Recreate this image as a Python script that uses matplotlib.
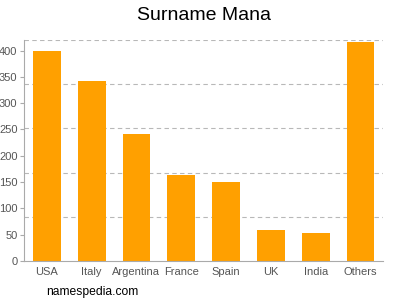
import numpy as np
import matplotlib
matplotlib.use('Agg')
import matplotlib.pyplot as plt

countries = ['USA', 'Italy', 'Argentina', 'France', 'Spain', 'UK', 'India', 'Others']
counts = [400, 342, 242, 164, 151, 58, 54, 417]
yticks = [0, 50, 100, 150, 200, 250, 300, 350, 400]
gridlines = [84, 168, 252, 336, 420]

plt.rcParams['font.family'] = ['Liberation Sans', 'DejaVu Sans']

fig = plt.figure(figsize=(4, 3), dpi=100)
ax = fig.add_axes([0.061, 0.13, 0.8965, 0.7367])

x = np.arange(len(countries))
ax.bar(x, counts, width=0.62, color='#FFA000', zorder=2)

for g in gridlines:
    ax.axhline(g, color='#b8b8b8', linestyle=(0, (4, 3)), linewidth=0.8, zorder=1)

ax.set_xlim(-0.5, len(countries) - 0.5)
ax.set_ylim(0, 420)
ax.set_xticks(x)
ax.set_xticklabels(countries)
ax.set_yticks(yticks)
ax.tick_params(axis='x', length=0, labelsize=8, colors='#555555', pad=4)
ax.tick_params(axis='y', length=3, width=0.8, labelsize=8, colors='#555555', pad=2)
ax.tick_params(axis='y', color='#aaaaaa')

for s in ['top', 'right']:
    ax.spines[s].set_visible(False)
for s in ['left', 'bottom']:
    ax.spines[s].set_color('#aaaaaa')
    ax.spines[s].set_linewidth(0.8)

fig.text(0.51, 0.95, 'Surname Mana', ha='center', va='center', fontsize=14, color='#000000')
fig.text(0.115, 0.027, 'namespedia.com', ha='left', va='center', fontsize=8.7, color='#000000')

fig.savefig('out.png', dpi=100)
